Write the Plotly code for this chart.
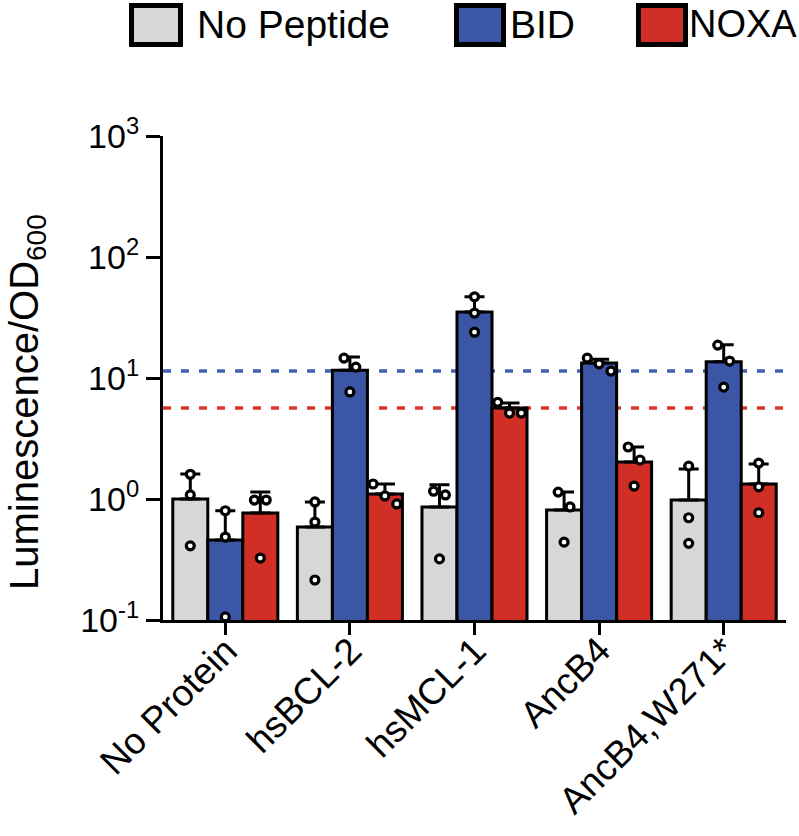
import plotly.graph_objects as go
import numpy as np

# ---------------- data ----------------
categories = ["No Protein", "hsBCL-2", "hsMCL-1", "AncB4", "AncB4,W271*"]
series_names = ["No Peptide", "BID", "NOXA"]

nopep_mean = [1.00, 0.587, 0.86, 0.81, 0.98]
nopep_upper = [1.61, 0.945, 1.31, 1.14, 1.77]
nopep_points = [[1.60, 1.08, 0.41], [0.945, 0.645, 0.214], [1.16, 1.08, 0.32],
                [1.14, 0.86, 0.44], [1.87, 0.70, 0.43]]

bid_mean = [0.458, 11.6, 35.1, 13.3, 13.6]
bid_upper = [0.80, 14.9, 46.9, 14.3, 18.8]
bid_points = [[0.80, 0.485, 0.106], [14.6, 12.3, 7.67], [46.9, 34.4, 23.9],
              [14.6, 13.1, 11.4], [18.7, 13.8, 8.4]]

noxa_mean = [0.766, 1.10, 5.65, 2.02, 1.33]
noxa_upper = [1.14, 1.33, 6.2, 2.69, 1.95]
noxa_points = [[0.98, 0.98, 0.325], [1.33, 1.06, 0.91], [6.3, 5.13, 5.13],
               [2.69, 2.10, 1.28], [1.98, 1.26, 0.77]]

bid_reference = 11.4
noxa_reference = 5.65

y_tickvals = [0.1, 1, 10, 100, 1000]
y_ticktext = ["10<sup>-1</sup>", "10<sup>0</sup>", "10<sup>1</sup>", "10<sup>2</sup>", "10<sup>3</sup>"]

# ---------------- style ----------------
colors = ["#D7D7D5", "#3A56A5", "#D12E26"]
dash_colors = ["#4462B3", "#D9352C"]
FONT = "Liberation Sans, Arial, sans-serif"
BARGAP = 0.157
BARW = (1 - BARGAP) / 3
SPREAD = 0.095
CLUSTER_THR = 0.133

# plot area in pixels (for layout placement)
W, H = 799, 836
L, R, T, B = 163, 13, 136, 216
PW, PH = W - L - R, H - T - B


def px_x(px):
    return (px - L) / PW


def px_y(py):
    return (H - B - py) / PH


def spread_offsets(vals):
    """Prism-like horizontal spreading of close points (log space)."""
    order = sorted(range(len(vals)), key=lambda i: -vals[i])
    logs = [np.log10(vals[i]) for i in order]
    clusters, cur = [], [order[0]]
    for j in range(1, len(order)):
        if logs[j - 1] - logs[j] < CLUSTER_THR:
            cur.append(order[j])
        else:
            clusters.append(cur)
            cur = [order[j]]
    clusters.append(cur)
    offs = [0.0] * len(vals)
    for c in clusters:
        n = len(c)
        for k, idx in enumerate(c):
            offs[idx] = (k - (n - 1) / 2) * SPREAD
    return offs


fig = go.Figure()

means = [nopep_mean, bid_mean, noxa_mean]
uppers = [nopep_upper, bid_upper, noxa_upper]
points = [nopep_points, bid_points, noxa_points]
xs = list(range(len(categories)))

for s in range(3):
    fig.add_trace(go.Bar(
        x=xs, y=means[s], name=series_names[s],
        marker=dict(color=colors[s], line=dict(color="black", width=3)),
        error_y=dict(type="data", symmetric=False,
                     array=[u - m for u, m in zip(uppers[s], means[s])],
                     arrayminus=[0] * len(xs), color="black", thickness=3, width=10),
        showlegend=False,
    ))

for s in range(3):
    px_list, py_list = [], []
    for g in xs:
        vals = points[s][g]
        offs = spread_offsets(vals)
        for v, o in zip(vals, offs):
            px_list.append(g + (s - 1) * BARW + o)
            py_list.append(v)
    fig.add_trace(go.Scatter(
        x=px_list, y=py_list, mode="markers", cliponaxis=False, showlegend=False,
        marker=dict(symbol="circle", size=8, color="white", line=dict(color="black", width=3.2)),
    ))

# reference dashed lines
for val, col in [(bid_reference, dash_colors[0]), (noxa_reference, dash_colors[1])]:
    fig.add_shape(type="line", xref="paper", x0=0, x1=1, yref="y", y0=val, y1=val,
                  line=dict(color=col, width=3.5, dash="8px,10px"), layer="below")

# custom legend
legend_boxes = [(129, 183), (454, 506), (636, 688)]
legend_text_x = [195, 508, 687]
for s in range(3):
    x0, x1 = legend_boxes[s]
    fig.add_shape(type="rect", xref="paper", yref="paper",
                  x0=px_x(x0 + 2.5), x1=px_x(x1 - 2.5), y0=px_y(47 - 2.5), y1=px_y(3 + 2.5),
                  fillcolor=colors[s], line=dict(color="black", width=5))
    fig.add_annotation(xref="paper", yref="paper", x=px_x(legend_text_x[s]), y=px_y(24),
                       xanchor="left", yanchor="middle", showarrow=False,
                       text=series_names[s],
                       font=dict(family=FONT, size=39 if s < 2 else 38, color="black"))

# rotated category labels (placed at the category positions of the x axis)
for k, cat in zip(xs, categories):
    fig.add_annotation(xref="x", yref="paper", x=k, y=px_y(627), xshift=22,
                       xanchor="right", yanchor="top", showarrow=False, textangle=-45,
                       text=cat, font=dict(family=FONT, size=37, color="black"))

# y-axis title
fig.add_annotation(xref="paper", yref="paper", x=px_x(27), y=px_y(402),
                   xanchor="center", yanchor="middle", showarrow=False, textangle=-90,
                   text="Luminescence/OD<sub>600</sub>",
                   font=dict(family=FONT, size=40, color="black"))

fig.update_layout(
    width=W, height=H, autosize=False,
    margin=dict(l=L, r=R, t=T, b=B, pad=0, autoexpand=False),
    plot_bgcolor="white", paper_bgcolor="white",
    barmode="group", bargap=BARGAP, bargroupgap=0,
    font=dict(family=FONT, color="black"),
    xaxis=dict(range=[-0.5, 4.5], tickmode="array", tickvals=xs, showticklabels=False,
               ticks="outside", ticklen=12, tickwidth=3, tickcolor="black",
               showline=True, linewidth=3, linecolor="black", showgrid=False, zeroline=False,
               automargin=False),
    yaxis=dict(type="log", range=[-1, 3], tickmode="array", tickvals=y_tickvals,
               ticktext=y_ticktext, ticks="outside", ticklen=14, tickwidth=3,
               tickcolor="black", showline=True, linewidth=3, linecolor="black",
               showgrid=False, zeroline=False, minor=dict(ticks=""), automargin=False,
               tickfont=dict(family=FONT, size=34, color="black")),
)

fig.write_html("out.html", config={"displayModeBar": False},
               post_script="document.body.style.margin='0';")
